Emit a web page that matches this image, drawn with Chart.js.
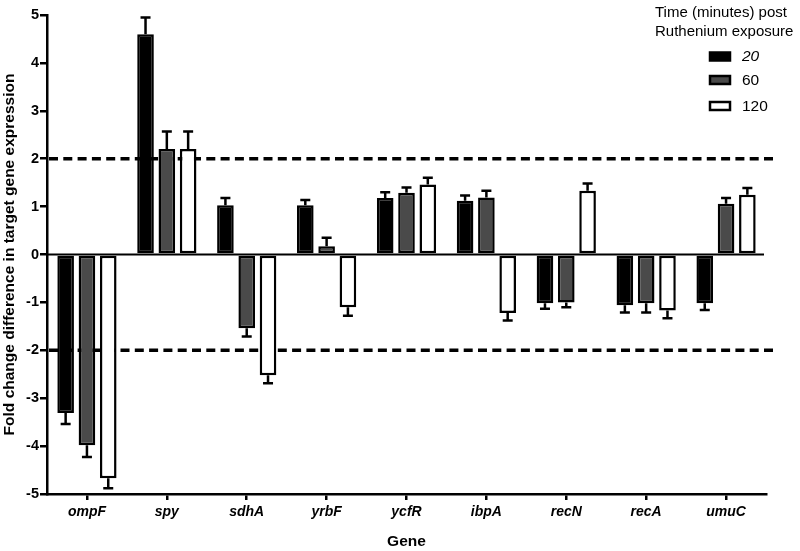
<!DOCTYPE html>
<html>
<head>
<meta charset="utf-8">
<script src="https://cdn.jsdelivr.net/npm/chart.js@4/dist/chart.umd.min.js"></script>
<style>
html,body{margin:0;padding:0;background:#fff;}
#wrap{position:relative;width:800px;height:551px;}
canvas{display:block;}
</style>
</head>
<body>
<div id="wrap"><canvas id="c" width="800" height="551"></canvas></div>
<script>
const genes = ['ompF','spy','sdhA','yrbF','ycfR','ibpA','recN','recA','umuC'];
const seriesLabels = ['20','60','120'];
const values20  = [-3.31, 4.60, 1.03, 1.03, 1.18, 1.12, -1.02, -1.06, -1.02];
const values60  = [-3.98, 2.20, -1.54, 0.17, 1.29, 1.19, -1.00, -1.02, 1.06];
const values120 = [-4.67, 2.20, -2.52, -1.10, 1.46, -1.22, 1.33, -1.17, 1.25];
const err20  = [0.23, 0.35, 0.15, 0.11, 0.12, 0.11, 0.11, 0.15, 0.14];
const err60  = [0.25, 0.37, 0.17, 0.18, 0.11, 0.14, 0.10, 0.19, 0.12];
const err120 = [0.21, 0.37, 0.17, 0.18, 0.14, 0.16, 0.15, 0.16, 0.14];
const thresholds = [2, -2];
const yTicks = [-5,-4,-3,-2,-1,0,1,2,3,4,5];

const FONT = "'Liberation Sans', Arial, Helvetica, sans-serif";

const errorBarPlugin = {
  id: 'errorBars',
  afterDatasetsDraw(chart) {
    const ctx = chart.ctx;
    const y = chart.scales.y;
    const errs = [err20, err60, err120];
    ctx.save();
    ctx.strokeStyle = '#000';
    ctx.lineWidth = 2.5;
    chart.data.datasets.forEach((ds, di) => {
      const meta = chart.getDatasetMeta(di);
      meta.data.forEach((bar, i) => {
        const v = ds.data[i];
        const e = errs[di][i];
        const end = v >= 0 ? v + e : v - e;
        const py0 = y.getPixelForValue(v);
        const py1 = y.getPixelForValue(end);
        ctx.beginPath();
        ctx.moveTo(bar.x, py0);
        ctx.lineTo(bar.x, py1);
        ctx.moveTo(bar.x - 5, py1);
        ctx.lineTo(bar.x + 5, py1);
        ctx.stroke();
      });
    });
    ctx.restore();
  }
};

const linesPlugin = {
  id: 'refLines',
  beforeDatasetsDraw(chart) {
    const ctx = chart.ctx;
    const y = chart.scales.y;
    const a = chart.chartArea;
    ctx.save();
    ctx.strokeStyle = '#000';
    ctx.lineWidth = 3.5;
    ctx.setLineDash([9, 5.3]);
    thresholds.forEach(t => {
      const py = y.getPixelForValue(t);
      ctx.beginPath();
      ctx.moveTo(a.left + 2, py);
      ctx.lineTo(a.right + 10, py);
      ctx.stroke();
    });
    ctx.restore();
  },
  afterDatasetsDraw(chart) {
    const ctx = chart.ctx;
    const y = chart.scales.y;
    const a = chart.chartArea;
    ctx.save();
    ctx.strokeStyle = '#000';
    ctx.lineWidth = 2;
    const py = y.getPixelForValue(0);
    ctx.beginPath();
    ctx.moveTo(a.left, py);
    ctx.lineTo(a.right - 2, py);
    ctx.stroke();
    ctx.restore();
  }
};

const legendPlugin = {
  id: 'customLegend',
  afterDraw(chart) {
    const ctx = chart.ctx;
    ctx.save();
    ctx.fillStyle = '#000';
    ctx.textBaseline = 'middle';
    ctx.textAlign = 'left';
    ctx.font = '15px ' + FONT;
    ctx.fillText('Time (minutes) post', 655, 13);
    ctx.fillText('Ruthenium exposure', 655, 32);
    const fills = ['#000', '#4a4a4a', '#fff'];
    const ys = [56.5, 80, 106];
    chart.data.datasets.forEach((ds, i) => {
      ctx.fillStyle = fills[i];
      ctx.strokeStyle = '#000';
      ctx.lineWidth = 2.5;
      ctx.fillRect(710, ys[i] - 4, 20, 8);
      ctx.strokeRect(710, ys[i] - 4, 20, 8);
      ctx.fillStyle = '#000';
      ctx.font = (i === 0 ? 'italic ' : '') + '15.5px ' + FONT;
      ctx.fillText(seriesLabels[i], 742, ys[i] + 0.5);
    });
    ctx.restore();
  }
};

const mk = (label, data, bg) => ({
  label, data,
  backgroundColor: bg,
  borderColor: '#000',
  borderWidth: 2.5,
  borderSkipped: false,
  categoryPercentage: 0.8,
  barPercentage: 0.78
});

new Chart(document.getElementById('c'), {
  type: 'bar',
  data: {
    labels: genes,
    datasets: [
      mk(seriesLabels[0], values20, '#000'),
      mk(seriesLabels[1], values60, '#4a4a4a'),
      mk(seriesLabels[2], values120, '#fff')
    ]
  },
  options: {
    responsive: false,
    animation: false,
    layout: { padding: { top: 15, right: 34, left: 0, bottom: 0 } },
    plugins: { legend: { display: false }, tooltip: { enabled: false } },
    scales: {
      x: {
        offset: true,
        grid: { display: true, drawOnChartArea: false, drawTicks: true, tickLength: 6, offset: false, color: '#000', lineWidth: 2.5 },
        border: { display: true, color: '#000', width: 2.5 },
        ticks: { color: '#000', font: { family: FONT, size: 14, weight: 'bold', style: 'italic' }, padding: 4, maxRotation: 0 },
        title: { display: true, text: 'Gene', color: '#000', font: { family: FONT, size: 15.5, weight: 'bold' }, padding: { top: 8, bottom: 0 } },
        afterFit(s) { s.height = 57; }
      },
      y: {
        min: -5, max: 5,
        afterBuildTicks(s) { s.ticks = yTicks.map(v => ({ value: v })); },
        grid: { display: true, drawOnChartArea: false, drawTicks: true, tickLength: 7, color: '#000', lineWidth: 2.5 },
        border: { display: true, color: '#000', width: 2.5 },
        ticks: { color: '#000', font: { family: FONT, size: 14.5, weight: 'bold' }, padding: 1 },
        title: { display: true, text: 'Fold change difference in target gene expression', color: '#000', font: { family: FONT, size: 15.5, weight: 'bold' }, padding: { top: 0, bottom: 0 } },
        afterFit(s) { s.width = 47; }
      }
    }
  },
  plugins: [linesPlugin, errorBarPlugin, legendPlugin]
});
</script>
</body>
</html>
